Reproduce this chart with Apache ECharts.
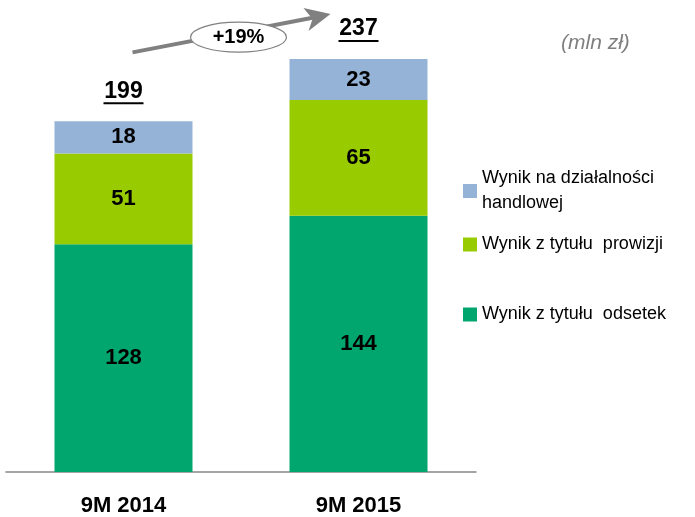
<!DOCTYPE html>
<html>
<head>
<meta charset="utf-8">
<script src="https://cdn.jsdelivr.net/npm/echarts@6/dist/echarts.min.js"></script>
<style>
  html, body { margin: 0; padding: 0; background: #fff; }
  #chart { width: 695px; height: 517px; }
</style>
</head>
<body>
<div id="chart"></div>
<script>
const categories = ['9M 2014', '9M 2015'];
const odsetki = [128, 144];
const prowizje = [51, 65];
const handel = [18, 23];
const totals = [199, 237];
const growth = '+19%';

const FONT = 'Liberation Sans';
const colors = { handel: '#95B3D7', prowizje: '#99CC00', odsetki: '#00A66E' };

let chart = echarts.init(document.getElementById('chart'));

// stack heights (where the total label sits)
const stackTops = categories.map((c, i) => odsetki[i] + prowizje[i] + handel[i]);

function segLabel() {
  return { show: true, position: 'inside', color: '#000', fontFamily: FONT, fontWeight: 'bold', fontSize: 22 };
}

function legendItem(name, top) {
  return {
    data: [name],
    left: 458,
    top: top,
    orient: 'vertical',
    icon: 'rect',
    itemWidth: 14,
    itemHeight: 14,
    itemGap: 0,
    selectedMode: false,
    textStyle: { fontFamily: FONT, fontSize: 18, color: '#000', lineHeight: 25 }
  };
}

const unitLabel = {
  type: 'text',
  left: 561, top: 33,
  style: { text: '(mln zł)', fill: '#7f7f7f', font: 'italic 21px ' + FONT }
};

chart.setOption({
  animation: false,
  grid: { left: 6, right: 219, top: 27, bottom: 45 },
  legend: [
    legendItem('Wynik na działalności\nhandlowej', 161),
    legendItem('Wynik z tytułu  prowizji', 227),
    legendItem('Wynik z tytułu  odsetek', 297)
  ],
  xAxis: {
    type: 'category',
    data: categories,
    axisLine: { lineStyle: { color: '#888', width: 1.5 } },
    axisTick: { show: false },
    axisLabel: { color: '#000', fontFamily: FONT, fontWeight: 'bold', fontSize: 22, margin: 23 }
  },
  yAxis: { type: 'value', min: 0, max: 250, show: false, splitLine: { show: false } },
  series: [
    {
      name: 'Wynik z tytułu  odsetek', type: 'bar', stack: 'total', barWidth: 138,
      itemStyle: { color: colors.odsetki }, label: segLabel(), data: odsetki
    },
    {
      name: 'Wynik z tytułu  prowizji', type: 'bar', stack: 'total',
      itemStyle: { color: colors.prowizje }, label: segLabel(), data: prowizje
    },
    {
      name: 'Wynik na działalności\nhandlowej', type: 'bar', stack: 'total',
      itemStyle: { color: colors.handel }, label: segLabel(), data: handel
    },
    {
      // underlined totals above each bar
      type: 'custom',
      silent: true,
      z: 10,
      data: categories.map((c, i) => [i, stackTops[i], totals[i]]),
      renderItem: function (params, api) {
        const p = api.coord([api.value(0), api.value(1)]);
        const y = p[1] - 30;
        return {
          type: 'group',
          children: [
            {
              type: 'text',
              style: {
                x: p[0], y: y, text: String(api.value(2)),
                fill: '#000', font: 'bold 23px ' + FONT,
                align: 'center', verticalAlign: 'middle'
              }
            },
            {
              type: 'line',
              shape: { x1: p[0] - 20, y1: y + 12, x2: p[0] + 20, y2: y + 12 },
              style: { stroke: '#000', lineWidth: 2 }
            }
          ]
        };
      }
    }
  ],
  graphic: [unitLabel]
});

// growth arrow between the two totals
const a = chart.convertToPixel({ seriesIndex: 0 }, [0, stackTops[0]]);
const b = chart.convertToPixel({ seriesIndex: 0 }, [1, stackTops[1]]);
const x1 = a[0] + 9, y1 = a[1] - 69;
const x2 = b[0] - 28, y2 = b[1] - 45;
const mx = (x1 + x2) / 2 + 7, my = (y1 + y2) / 2 + 4;
chart.setOption({
  graphic: [
    unitLabel,
    {
      type: 'line',
      shape: { x1: x1, y1: y1, x2: x2 - 14, y2: y2 + 3 },
      style: { stroke: '#808080', lineWidth: 4 },
      z: 5
    },
    {
      type: 'polygon',
      shape: { points: [[x2, y2], [x2 - 27, y2 - 6], [x2 - 18, y2 + 5], [x2 - 22, y2 + 17]] },
      style: { fill: '#808080' },
      z: 5
    },
    {
      type: 'ellipse',
      shape: { cx: mx, cy: my, rx: 48, ry: 15 },
      style: { fill: '#fff', stroke: '#808080', lineWidth: 1.2 },
      z: 6
    },
    {
      type: 'text',
      x: mx, y: my,
      style: { text: growth, fill: '#000', font: 'bold 20px ' + FONT, align: 'center', verticalAlign: 'middle' },
      z: 7
    }
  ]
});
</script>
</body>
</html>
